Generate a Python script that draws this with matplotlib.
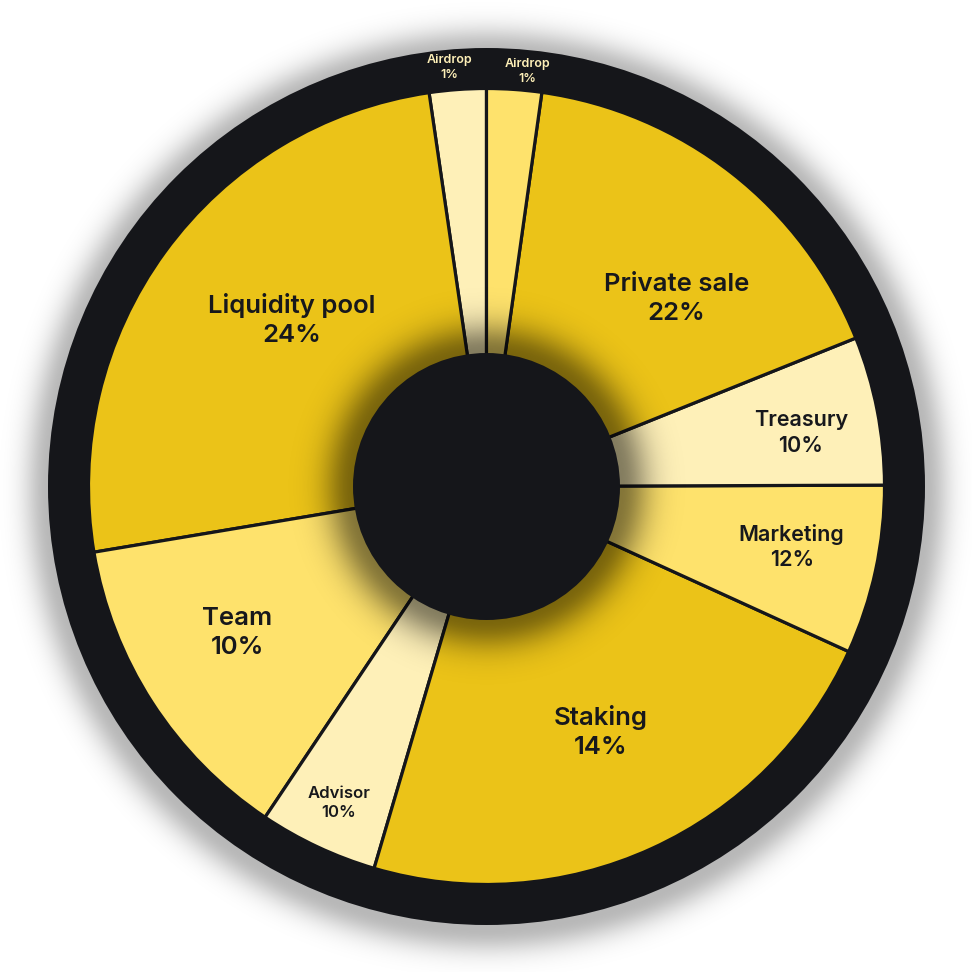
import numpy as np
import matplotlib
matplotlib.use("Agg")
import matplotlib.pyplot as plt
from matplotlib.patches import Circle

# ---------------- data ----------------
names = ["Airdrop", "Liquidity pool", "Team", "Advisor", "Staking",
         "Marketing", "Treasury", "Private sale", "Airdrop"]
label_pcts = [1, 24, 10, 10, 14, 12, 10, 22, 1]
# angular size of each slice as drawn (degrees, counter-clockwise from 12 o'clock)
arc_degrees = [8.3, 91.2, 46.7, 17.4, 81.9, 24.7, 21.7, 60.1, 8.0]
tones = ["light", "dark", "medium", "light", "dark",
         "medium", "light", "dark", "medium"]

# ---------------- style / layout ----------------
palette = {"dark": "#EBC318", "medium": "#FEE26C", "light": "#FEF0B8"}
ink = "#15161A"
label_radius = [421, 256, 289, 349, 271, 311, 319, 267, 417]
label_shift = [0.9, -4.5, -2.4, 0.1, 0.4, 1.0, -1.4, -7.3, -1.6]
label_size = [9, 18.5, 18.5, 12, 18.5, 15.5, 15.5, 18.5, 9]
label_outside = [True, False, False, False, False, False, False, False, True]

R_PIE = 398
R_RING = 438.5
R_HOLE = 133.5

plt.rcParams['font.family'] = ['Inter', 'DejaVu Sans']

fig = plt.figure(figsize=(9.72, 9.72), dpi=100)
fig.patch.set_facecolor("white")
ax = fig.add_axes([0, 0, 1, 1])
XL = (-486.5, 485.5)
YL = (-485.5, 486.5)

# soft outer shadow
xs = np.linspace(XL[0], XL[1], 972)
ys = np.linspace(YL[0], YL[1], 972)
X, Y = np.meshgrid(xs, ys)
rs = np.hypot(X, Y + 4)
d = np.clip(rs - R_RING, 0, None)
alpha = 0.28 * np.exp(-(d ** 2) / (2 * 17.0 ** 2))
img = np.zeros((972, 972, 4))
img[..., 3] = alpha
ax.imshow(img, extent=(XL[0], XL[1], YL[0], YL[1]), origin="lower",
          interpolation="bilinear", zorder=0)

# dark outer ring
ax.add_patch(Circle((0, 0), R_RING, facecolor=ink, edgecolor="none", zorder=1))

# pie
wedges, _ = ax.pie(arc_degrees, startangle=90, counterclock=True, radius=R_PIE,
                   colors=[palette[t] for t in tones],
                   wedgeprops=dict(edgecolor=ink, linewidth=2.3))
for w in wedges:
    w.set_zorder(2)

# shadow around the centre hole
r0 = np.hypot(X, Y)
d2 = np.clip(r0 - R_HOLE, 0, None)
alpha2 = 0.48 * np.exp(-(d2 ** 2) / (2 * 21.0 ** 2))
alpha2[r0 > R_PIE] = 0
img2 = np.zeros((972, 972, 4))
img2[..., 3] = alpha2
ax.imshow(img2, extent=(XL[0], XL[1], YL[0], YL[1]), origin="lower",
          interpolation="bilinear", zorder=3)

ax.add_patch(Circle((0, 0), R_HOLE, facecolor=ink, edgecolor="none", zorder=4))

# labels
for w, name, pct, rr, sh, fs, out in zip(wedges, names, label_pcts, label_radius,
                                         label_shift, label_size, label_outside):
    mid = np.deg2rad((w.theta1 + w.theta2) / 2 + sh)
    ax.text(rr * np.cos(mid), rr * np.sin(mid), f"{name}\n{pct}%",
            ha="center", va="center", multialignment="center",
            fontsize=fs, fontweight="semibold", linespacing=1.32,
            color=palette["light"] if out else "#17181C", zorder=5)

ax.set_xlim(*XL)
ax.set_ylim(*YL)
ax.set_aspect("equal")
ax.axis("off")
fig.savefig("out.png", dpi=100, facecolor="white")
